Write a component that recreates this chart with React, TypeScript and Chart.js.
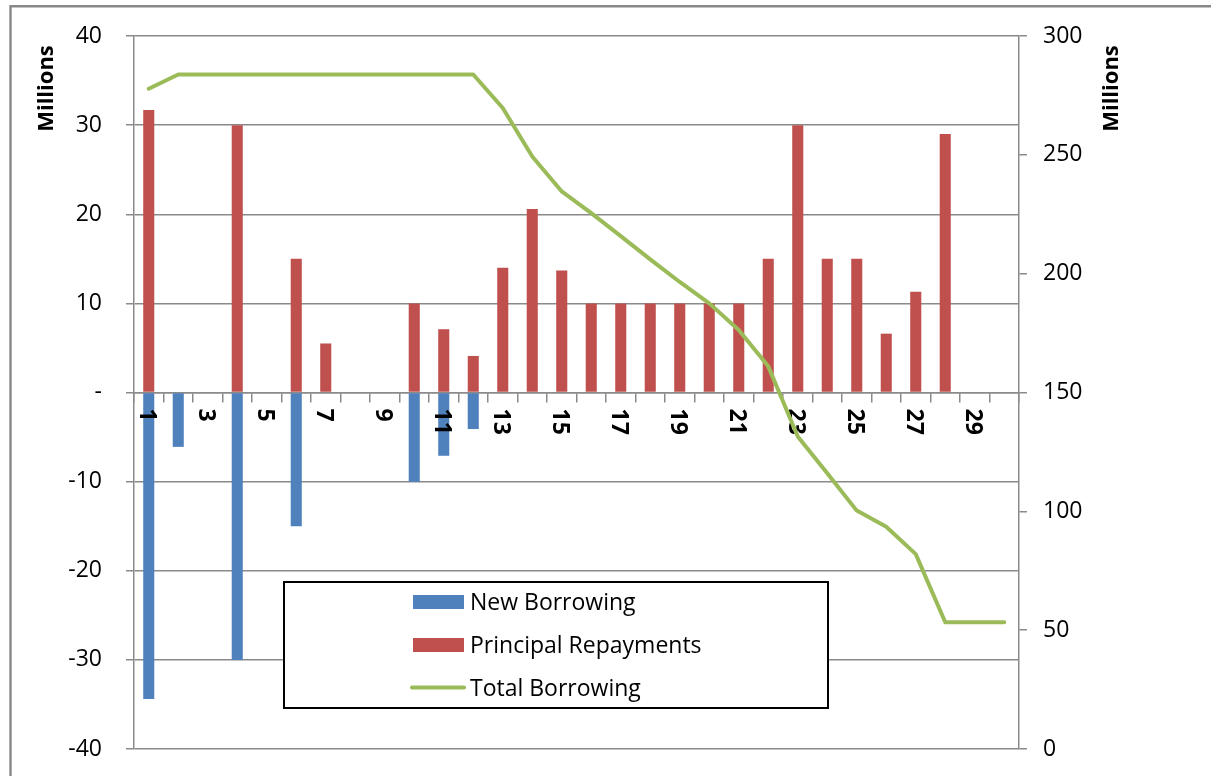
import React, { useEffect, useRef } from 'react';
import { Chart, registerables } from 'chart.js';

Chart.register(...registerables);

// ---- data ----
const categories = ['1', '2', '3', '4', '5', '6', '7', '8', '9', '10', '11', '12', '13', '14', '15',
  '16', '17', '18', '19', '20', '21', '22', '23', '24', '25', '26', '27', '28', '29', '30'];

const newBorrowing = [-34.4, -6.1, null, -30, null, -15, null, null, null, -10, -7.1, -4.1, null, null, null,
  null, null, null, null, null, null, null, null, null, null, null, null, null, null, null];

const principalRepayments = [31.7, null, null, 30, null, 15, 5.5, null, null, 10, 7.1, 4.1, 14, 20.6, 13.7,
  10, 10, 10, 10, 10, 10, 15, 30, 15, 15, 6.6, 11.3, 29, null, null];

const totalBorrowing = [277.8, 283.8, 283.8, 283.8, 283.8, 283.8, 283.8, 283.8, 283.8, 283.8, 283.8, 283.8,
  269.7, 249.3, 234.6, 225.5, 215.8, 206, 196.5, 187.5, 176.3, 161, 131.5, 116, 100.3, 93.5, 82, 53.3, 53.3, 53.3];

const leftTickValues = [-40, -30, -20, -10, 0, 10, 20, 30, 40];
const leftTickLabels = ['-40', '-30', '-20', '-10', '-', '10', '20', '30', '40'];
const rightTickLabels = ['0', '50', '100', '150', '200', '250', '300'];
const xTickLabels = ['1', '3', '5', '7', '9', '11', '13', '15', '17', '19', '21', '23', '25', '27', '29'];
const axisTitle = 'Millions';

const seriesLabels = ['New Borrowing', 'Principal Repayments', 'Total Borrowing'];
const seriesColors = ['#4F81BD', '#C0504D', '#9BBB59'];

const FONT = "'Open Sans', 'DejaVu Sans', sans-serif";
const GRID = '#8a8a8a';

const decorPlugin = {
  id: 'decor',
  beforeDraw(chart: any) {
    const ctx = chart.ctx;
    ctx.save();
    ctx.fillStyle = '#ffffff';
    ctx.fillRect(0, 0, chart.width, chart.height);
    // outer chart border
    ctx.strokeStyle = '#888888';
    ctx.lineWidth = 2.4;
    ctx.beginPath();
    ctx.moveTo(10.5, chart.height + 10);
    ctx.lineTo(10.5, 6.3);
    ctx.lineTo(chart.width + 10, 6.3);
    ctx.stroke();
    ctx.restore();
  },
  beforeDatasetDraw(chart: any, args: any) {
    if (args.index !== 2) return;
    const ctx = chart.ctx;
    const xs = chart.scales.x;
    const y0 = chart.scales.y.getPixelForValue(0);
    ctx.save();
    ctx.font = `bold 23px ${FONT}`;
    ctx.fillStyle = '#000';
    ctx.textAlign = 'left';
    ctx.textBaseline = 'alphabetic';
    categories.forEach((c, i) => {
      if (!xTickLabels.includes(c)) return;
      const px = xs.getPixelForValue(i);
      ctx.save();
      ctx.translate(px - 8.5, y0 + 16);
      ctx.rotate(Math.PI / 2);
      ctx.fillText(c, 0, 0);
      ctx.restore();
    });
    ctx.restore();
  },
  afterDraw(chart: any) {
    const ctx = chart.ctx;
    ctx.save();
    // axis titles
    ctx.font = `bold 22px ${FONT}`;
    ctx.fillStyle = '#000';
    ctx.textAlign = 'center';
    ctx.textBaseline = 'alphabetic';
    [[53, 88.5], [1117.5, 88.5]].forEach(([x, y]) => {
      ctx.save();
      ctx.translate(x, y);
      ctx.rotate(-Math.PI / 2);
      ctx.fillText(axisTitle, 0, 0);
      ctx.restore();
    });

    // legend box
    const lx = 284, ly = 582, lw = 544, lh = 126;
    ctx.fillStyle = '#ffffff';
    ctx.fillRect(lx, ly, lw, lh);
    ctx.strokeStyle = '#000';
    ctx.lineWidth = 2;
    ctx.strokeRect(lx, ly, lw, lh);

    const rows = [602, 645, 687.5];
    ctx.font = `23px ${FONT}`;
    ctx.textAlign = 'left';
    ctx.textBaseline = 'alphabetic';
    seriesLabels.forEach((label, i) => {
      const cy = rows[i];
      if (i < 2) {
        ctx.fillStyle = seriesColors[i];
        ctx.fillRect(413, cy - 7, 51, 14);
      } else {
        ctx.strokeStyle = seriesColors[i];
        ctx.lineWidth = 4;
        ctx.lineCap = 'round';
        ctx.beginPath();
        ctx.moveTo(412, cy);
        ctx.lineTo(464, cy);
        ctx.stroke();
      }
      ctx.fillStyle = '#000';
      ctx.fillText(label, 470, cy + 8);
    });
    ctx.restore();
  },
};

export default function App() {
  const canvasRef = useRef<HTMLCanvasElement | null>(null);

  useEffect(() => {
    const canvas = canvasRef.current;
    if (!canvas) return;
    const chart = new Chart(canvas, {
      type: 'bar',
      data: {
        labels: categories,
        datasets: [
          {
            type: 'bar',
            label: seriesLabels[0],
            data: newBorrowing as any,
            backgroundColor: seriesColors[0],
            borderWidth: 0,
            yAxisID: 'y',
            grouped: false,
            categoryPercentage: 1,
            barPercentage: 0.375,
            order: 1,
          } as any,
          {
            type: 'bar',
            label: seriesLabels[1],
            data: principalRepayments as any,
            backgroundColor: seriesColors[1],
            borderWidth: 0,
            yAxisID: 'y',
            grouped: false,
            categoryPercentage: 1,
            barPercentage: 0.375,
            order: 1,
          } as any,
          {
            type: 'line',
            label: seriesLabels[2],
            data: totalBorrowing,
            borderColor: seriesColors[2],
            backgroundColor: seriesColors[2],
            borderWidth: 4,
            pointRadius: 0,
            tension: 0,
            borderCapStyle: 'round',
            borderJoinStyle: 'round',
            yAxisID: 'y1',
            order: 0,
          } as any,
        ],
      },
      options: {
        responsive: false,
        animation: false,
        layout: { padding: { left: 0, right: 0, top: 36, bottom: 27 } },
        plugins: {
          legend: { display: false },
          tooltip: { enabled: false },
          title: { display: false },
        },
        scales: {
          x: {
            type: 'category',
            position: { y: 0 } as any,
            offset: true,
            grid: {
              offset: true,
              drawOnChartArea: false,
              drawTicks: true,
              tickLength: 9,
              color: GRID,
              lineWidth: 1.5,
            },
            border: { display: true, color: GRID, width: 1.5 },
            ticks: { display: false },
          },
          y: {
            position: 'left',
            min: -40,
            max: 40,
            afterFit: (s: any) => { s.width = 134; s.paddingTop = 0; s.paddingBottom = 0; },
            afterBuildTicks: (s: any) => { s.ticks = leftTickValues.map((v) => ({ value: v })); },
            ticks: {
              stepSize: 10,
              padding: 24,
              color: '#000',
              font: { family: FONT, size: 23 },
              callback: (v: any) => leftTickLabels[leftTickValues.indexOf(Number(v))],
            },
            grid: { color: GRID, lineWidth: 1.5, tickLength: 8 },
            border: { display: true, color: GRID, width: 1.5 },
          },
          y1: {
            position: 'right',
            min: 0,
            max: 300,
            afterFit: (s: any) => { s.width = 192; s.paddingTop = 0; s.paddingBottom = 0; },
            ticks: {
              stepSize: 50,
              padding: 16,
              color: '#000',
              font: { family: FONT, size: 23 },
              callback: (v: any) => rightTickLabels[Math.round(Number(v) / 50)],
            },
            grid: { drawOnChartArea: false, color: GRID, lineWidth: 1.5, tickLength: 8 },
            border: { display: true, color: GRID, width: 1.5 },
          },
        },
      } as any,
      plugins: [decorPlugin],
    });
    return () => chart.destroy();
  }, []);

  return (
    <div style={{ position: 'absolute', left: 0, top: 0, width: 1211, height: 776, background: '#fff' }}>
      <canvas ref={canvasRef} width={1211} height={776} style={{ display: 'block' }} />
    </div>
  );
}
